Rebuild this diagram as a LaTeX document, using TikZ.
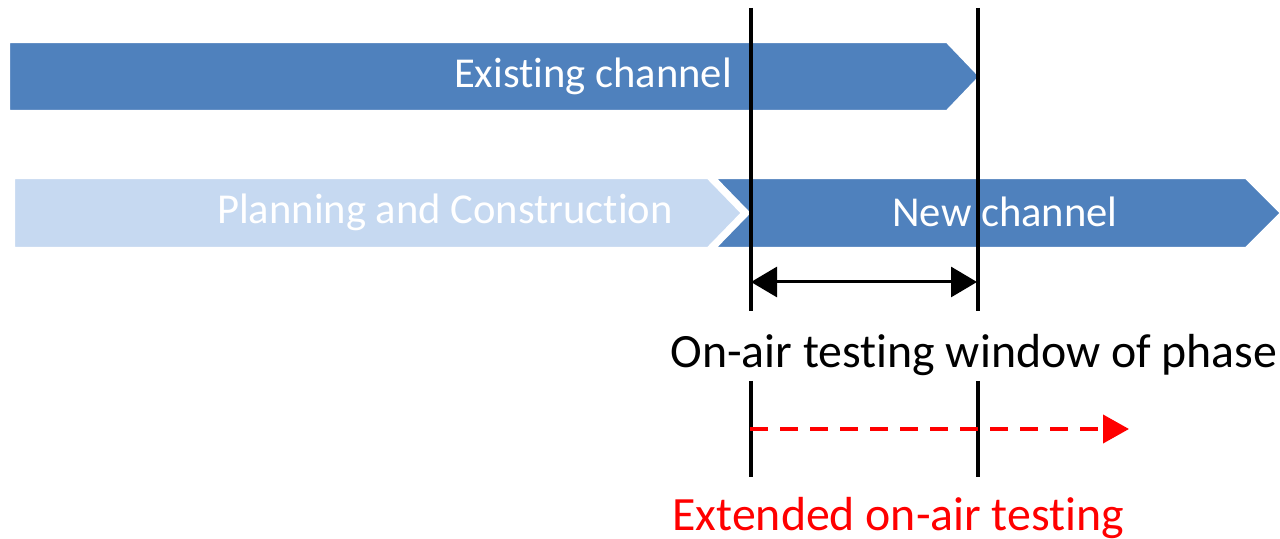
\documentclass[tikz,border=0pt]{standalone}
\usepackage{fontspec}
\setmainfont{Carlito}[Ligatures=NoCommon]
\usetikzlibrary{arrows.meta}
\definecolor{darkbar}{RGB}{79,129,189}
\definecolor{lightbar}{RGB}{198,217,241}
\begin{document}
\begin{tikzpicture}[x=0.5pt,y=-0.5pt,
  barfill/.style={fill=#1,draw=white,line width=1.2pt},
  bartext/.style={text=white,font=\fontsize{21.3pt}{24pt}\selectfont,inner sep=0pt},
  vline/.style={line width=1.6pt,black},
  label/.style={font=\fontsize{23.9pt}{28pt}\selectfont,inner sep=0pt,anchor=west}]
\useasboundingbox (0,0) rectangle (1280,539);
\clip (0,0) rectangle (1280,539);
% bars
\draw[barfill=darkbar] (9,42) -- (947,42) -- (980,76.5) -- (947,111) -- (9,111) -- cycle;
\draw[barfill=lightbar] (14,178) -- (708,178) -- (742,213) -- (708,248) -- (14,248) -- cycle;
\draw[barfill=darkbar] (715,178) -- (1246,178) -- (1281,213) -- (1246,248) -- (715,248) -- (749,213) -- cycle;
\node[bartext] (existing) at (593,76) {Existing channel};
\node[bartext] (planning) at (445,212) {Planning and Construction};
\node[bartext] (new) at (1005,212) {New channel};
% vertical lines
\coordinate (a1) at (751,8);
\coordinate (a2) at (751,311);
\coordinate (b1) at (978,8);
\coordinate (b2) at (978,311);
\coordinate (c1) at (751,381);
\coordinate (c2) at (751,477);
\coordinate (d1) at (978,381);
\coordinate (d2) at (978,477);
\draw[vline] (a1) -- (a2);
\draw[vline] (b1) -- (b2);
\draw[vline] (c1) -- (c2);
\draw[vline] (d1) -- (d2);
% double arrow
\coordinate (p1) at (751,282);
\coordinate (p2) at (977,282);
\draw[line width=1.5pt,{Triangle[length=13pt,width=15pt]}-{Triangle[length=13pt,width=15pt]}] (p1) -- (p2);
% red dashed arrow
\coordinate (r1) at (750,429);
\coordinate (r2) at (1129,429);
\draw[red,line width=2pt,dash pattern=on 9pt off 6pt,-{Triangle[length=13pt,width=14pt]}] (r1) -- (r2);
% labels
\node[label] (window) at (670,355) {On-air testing window of phase};
\node[label,text=red] (extended) at (672,518) {Extended on-air testing};
\end{tikzpicture}
\end{document}
